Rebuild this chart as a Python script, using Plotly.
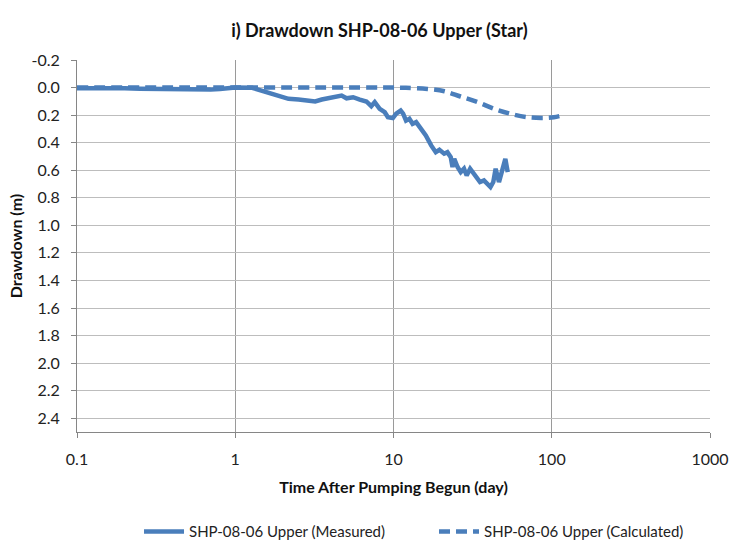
import plotly.graph_objects as go

# Measured drawdown (m) vs time (day)
meas_t = [0.1, 0.12, 0.15, 0.2, 0.25, 0.3, 0.4, 0.5, 0.6, 0.7, 0.8, 0.91, 1.0, 1.28, 1.48, 1.79,
          2.17, 2.51, 2.90, 3.20, 3.52, 3.97, 4.27, 4.70, 5.05, 5.56, 6.12, 6.74, 7.24, 7.61,
          8.18, 8.80, 9.22, 9.91, 10.4, 11.1, 11.5, 12.0, 12.6, 13.2, 13.9, 14.9, 16.0, 17.3,
          18.5, 19.5, 20.9, 21.9, 23.0, 23.6, 24.2, 25.4, 26.6, 27.9, 29.0, 30.5, 32.0, 33.5,
          35.2, 37.3, 39.2, 41.0, 42.7, 44.2, 46.4, 48.6, 50.9, 52.7]
meas_d = [0.005, 0.003, 0.007, 0.005, 0.008, 0.01, 0.01, 0.012, 0.015, 0.015, 0.01, 0.005, 0.0, 0.002,
          0.022, 0.053, 0.082, 0.087, 0.094, 0.101, 0.087, 0.078, 0.07, 0.058, 0.078, 0.07, 0.087,
          0.101, 0.135, 0.106, 0.154, 0.179, 0.215, 0.222, 0.19, 0.167, 0.19, 0.24, 0.227, 0.263,
          0.251, 0.30, 0.348, 0.42, 0.469, 0.452, 0.48, 0.469, 0.505, 0.577, 0.517, 0.577, 0.614,
          0.589, 0.638, 0.589, 0.625, 0.65, 0.686, 0.674, 0.698, 0.722, 0.686, 0.589, 0.686, 0.601,
          0.517, 0.614]

# Calculated drawdown
calc_t = [0.1, 1.0, 5.0, 10.0, 12.0, 16.4, 21.0, 26.5, 33.9, 43.4, 54.6, 69.8, 89.2, 103, 119]
calc_d = [0.0, 0.0, 0.0, 0.0, 0.002, 0.01, 0.027, 0.065, 0.105, 0.155, 0.19, 0.215, 0.22, 0.215, 0.2]

x_ticks = [0.1, 1, 10, 100, 1000]
x_labels = ["0.1", "1", "10", "100", "1000"]
y_ticks = [-0.2, 0.0, 0.2, 0.4, 0.6, 0.8, 1.0, 1.2, 1.4, 1.6, 1.8, 2.0, 2.2, 2.4]
y_labels = ["-0.2", "0.0", "0.2", "0.4", "0.6", "0.8", "1.0", "1.2", "1.4", "1.6", "1.8", "2.0", "2.2", "2.4"]

color = "#4A7EBB"
font = "Lato, 'Open Sans', sans-serif"

fig = go.Figure()
fig.add_trace(go.Scatter(x=meas_t, y=meas_d, mode="lines", name="SHP-08-06 Upper (Measured)",
                         line=dict(color=color, width=4.5)))
fig.add_trace(go.Scatter(x=calc_t, y=calc_d, mode="lines", name="SHP-08-06 Upper (Calculated)",
                         line=dict(color=color, width=4.5, dash="11px,6px", shape="spline")))

fig.update_layout(
    width=741, height=560,
    margin=dict(l=77, r=27, t=60, b=127),
    paper_bgcolor="white", plot_bgcolor="white",
    font=dict(family=font, size=16, color="#222"),
    title=dict(text="<b>i) Drawdown SHP-08-06 Upper (Star)</b>", x=0.512, xanchor="center",
               y=0.946, yanchor="middle", font=dict(size=18, color="#111")),
    showlegend=True,
    legend=dict(orientation="h", x=0.564, xanchor="center", y=-0.268, yanchor="middle",
                font=dict(size=15, color="#222"), itemwidth=40, tracegroupgap=0,
                entrywidth=240, entrywidthmode="pixels"),
)
fig.update_xaxes(type="log", range=[-1, 3], tickvals=x_ticks, ticktext=x_labels,
                 showgrid=True, gridcolor="#9A9A9A", gridwidth=1,
                 showline=True, linecolor="#868686", linewidth=1,
                 ticks="outside", ticklen=5, tickcolor="#868686",
                 tickfont=dict(size=16), zeroline=False, automargin=False,
                 ticklabelstandoff=8,
                 title=dict(text="<b>Time After Pumping Begun (day)</b>", font=dict(size=16, color="#111"),
                            standoff=14))
fig.update_yaxes(range=[2.5, -0.2], tickvals=y_ticks, ticktext=y_labels,
                 showgrid=True, gridcolor="#BDBDBD", gridwidth=1,
                 showline=True, linecolor="#868686", linewidth=1,
                 ticks="outside", ticklen=5, tickcolor="#868686",
                 tickfont=dict(size=16), zeroline=False, automargin=False,
                 ticklabelstandoff=8,
                 title=dict(text="<b>Drawdown (m)</b>", font=dict(size=16, color="#111"), standoff=4))

fig.write_html("out.html", config={"displayModeBar": False},
               post_script="document.body.style.margin='0';")
